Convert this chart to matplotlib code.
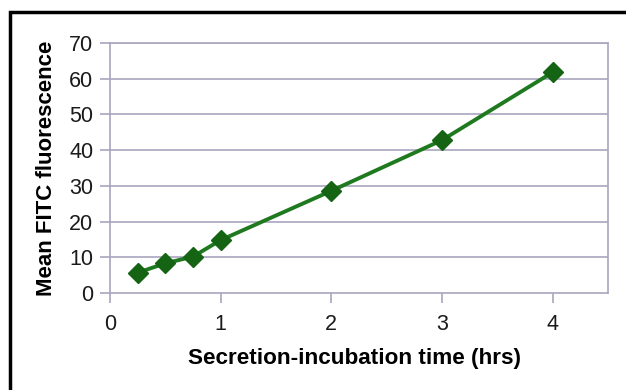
import matplotlib
matplotlib.use("Agg")
import matplotlib.pyplot as plt
from matplotlib.patches import Rectangle

plt.rcParams['font.family'] = ['Liberation Sans', 'DejaVu Sans']

time_hrs = [0.25, 0.5, 0.75, 1, 2, 3, 4]
fluorescence = [5.7, 8.3, 10.2, 14.8, 28.6, 42.8, 61.8]
x_ticks = [0, 1, 2, 3, 4]
y_ticks = [0, 10, 20, 30, 40, 50, 60, 70]

fig = plt.figure(figsize=(6.26, 3.9), dpi=100)
fig.patch.set_facecolor('white')
ax = fig.add_axes([110/626, 1-293/390, (608-110)/626, (293-43)/390])

grid_c = '#a9a6bf'
for y in y_ticks[1:]:
    ax.axhline(y, color=grid_c, lw=1.2, zorder=1)

ax.plot(time_hrs, fluorescence, color='#1f7a1f', lw=2.8, marker='D',
        markersize=10.5, markerfacecolor='#146414', markeredgecolor='#146414', zorder=3)

ax.set_xlim(0, 4.5)
ax.set_ylim(0, 70)
ax.set_xticks(x_ticks)
ax.set_yticks(y_ticks)
ax.tick_params(axis='both', labelsize=15.5, labelcolor='#1a1a1a', color=grid_c, length=7, width=1.2, direction='out')
ax.tick_params(axis='x', pad=8)
ax.tick_params(axis='y', pad=5)
for s in ['left', 'right', 'top', 'bottom']:
    ax.spines[s].set_color(grid_c)
    ax.spines[s].set_linewidth(1.2)

ax.set_xlabel('Secretion-incubation time (hrs)', fontsize=16.2, fontweight='bold')
ax.xaxis.set_label_coords((354-110)/498, -0.22)
ax.set_ylabel('Mean FITC fluorescence', fontsize=16, fontweight='bold', labelpad=9)

fig.add_artist(Rectangle((10/626, -0.1), 1.2, (1-12/390)+0.1, transform=fig.transFigure,
                         fill=False, edgecolor='black', lw=2.5))

fig.savefig('out.png', dpi=100)
